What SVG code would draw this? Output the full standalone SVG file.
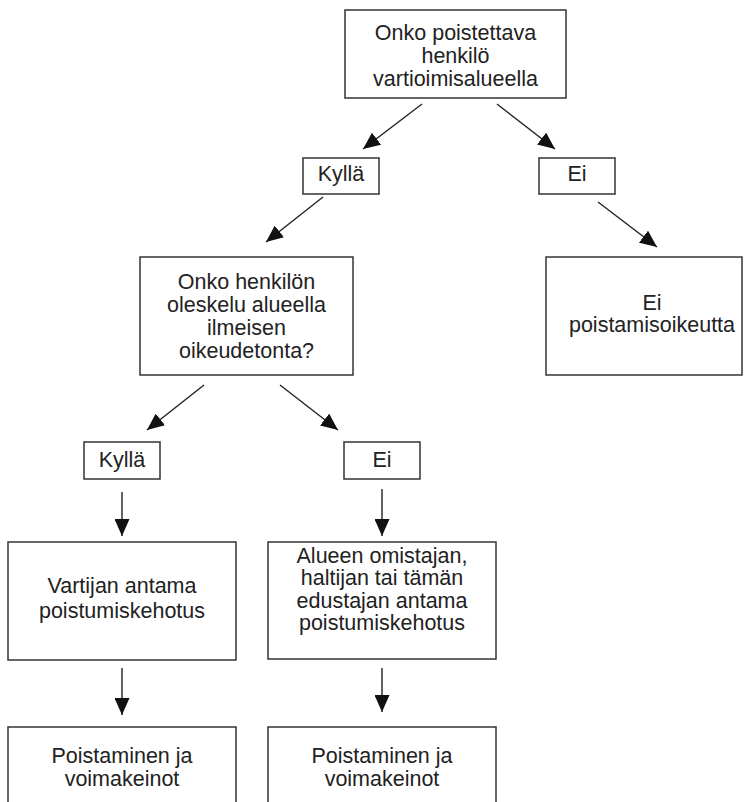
<svg xmlns="http://www.w3.org/2000/svg" width="748" height="802" viewBox="0 0 748 802">
<style>
rect{fill:#fff;stroke:#333;stroke-width:1.5}
text{font-family:"Liberation Sans",Arial,sans-serif;font-size:21.5px;fill:#222;text-anchor:middle}
.c line{stroke:#222;stroke-width:1.4;marker-end:url(#ah)}
</style>
<defs>
<marker id="ah" markerUnits="userSpaceOnUse" markerWidth="17" markerHeight="15" refX="17" refY="7.5" orient="auto" viewBox="0 0 17 15">
<path d="M0,0 L17,7.5 L0,15 z" fill="#111"/>
</marker>
</defs>
<rect width="748" height="802" style="stroke:none"/>
<g class="c" id="connectors">
<line x1="422" y1="104" x2="363" y2="149"/>
<line x1="497" y1="104" x2="555" y2="149"/>
<line x1="323" y1="197" x2="266" y2="242"/>
<line x1="598" y1="202" x2="657" y2="247"/>
<line x1="204" y1="385" x2="147" y2="430"/>
<line x1="280" y1="385" x2="338" y2="430"/>
<line x1="122" y1="492" x2="122" y2="536"/>
<line x1="382" y1="489" x2="382" y2="536"/>
<line x1="122" y1="668" x2="122" y2="715"/>
<line x1="382" y1="668" x2="382" y2="712"/>
</g>
<g id="q1">
<rect x="345" y="10" width="221" height="88"/>
<text x="455.5" y="40">Onko poistettava</text>
<text x="455.5" y="63">henkilö</text>
<text x="455.5" y="86">vartioimisalueella</text>
</g>
<g id="kylla1">
<rect x="303" y="158" width="76" height="36"/>
<text x="341" y="181">Kyllä</text>
</g>
<g id="ei1">
<rect x="539" y="158" width="76" height="36"/>
<text x="577" y="181">Ei</text>
</g>
<g id="q2">
<rect x="140" y="257" width="213" height="118"/>
<text x="246.5" y="289">Onko henkilön</text>
<text x="246.5" y="312">oleskelu alueella</text>
<text x="246.5" y="335">ilmeisen</text>
<text x="246.5" y="358">oikeudetonta?</text>
</g>
<g id="eipoist">
<rect x="546" y="257" width="196" height="118"/>
<text x="652" y="310">Ei</text>
<text x="652" y="332">poistamisoikeutta</text>
</g>
<g id="kylla2">
<rect x="84" y="442" width="76" height="37"/>
<text x="122" y="467">Kyllä</text>
</g>
<g id="ei2">
<rect x="344" y="442" width="76" height="37"/>
<text x="382" y="467">Ei</text>
</g>
<g id="vartija">
<rect x="8" y="542" width="228" height="118"/>
<text x="122" y="593">Vartijan antama</text>
<text x="122" y="618">poistumiskehotus</text>
</g>
<g id="omistaja">
<rect x="268" y="542" width="228" height="117"/>
<text x="382" y="563">Alueen omistajan,</text>
<text x="382" y="585">haltijan tai tämän</text>
<text x="382" y="608">edustajan antama</text>
<text x="382" y="630">poistumiskehotus</text>
</g>
<g id="poist1">
<rect x="8" y="727" width="228" height="100"/>
<text x="122" y="763">Poistaminen ja</text>
<text x="122" y="786">voimakeinot</text>
</g>
<g id="poist2">
<rect x="268" y="727" width="228" height="100"/>
<text x="382" y="763">Poistaminen ja</text>
<text x="382" y="786">voimakeinot</text>
</g>
</svg>
